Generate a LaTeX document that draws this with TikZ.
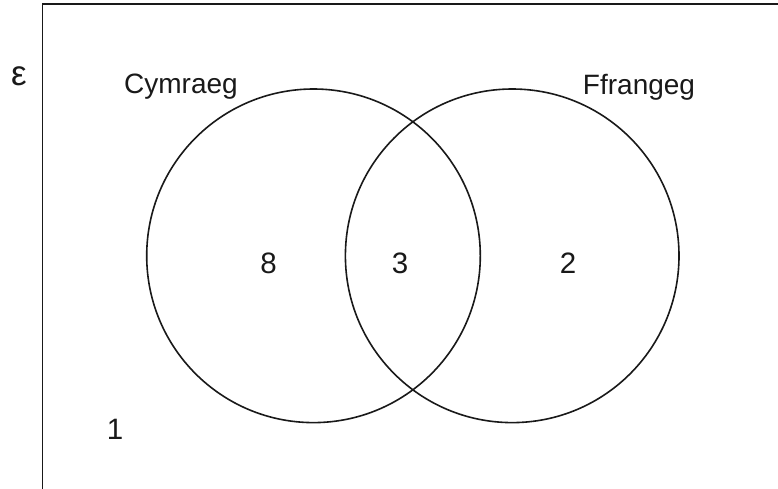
\documentclass[tikz,border=0pt]{standalone}
\usepackage{fontspec}
\setmainfont{Liberation Sans}
\begin{document}
\begin{tikzpicture}[x=1pt,y=-1pt,
  setline/.style={line width=1.6pt, draw=black!90},
  label/.style={anchor=base, inner sep=0pt, font=\fontsize{28}{30}\selectfont, text=black!90},
  count/.style={label, font=\fontsize{29.5}{32}\selectfont}]
\useasboundingbox (0,0) rectangle (778,488);
\clip (0,0) rectangle (778,488);
% universal set frame (runs off the page on the right and bottom)
\draw[setline] (42.5,800) -- (42.5,4) -- (900,4);
% the two sets
\node[setline, circle, minimum size=333.6pt, inner sep=0pt] (cym) at (313.5,255.8) {};
\node[setline, circle, minimum size=333.6pt, inner sep=0pt] (ffr) at (512.2,255.8) {};
% labels
\node[label, font=\fontsize{35}{36}\selectfont] (eps) at (19,85) {ε};
\node[label] (lcym) at (181,93) {Cymraeg};
\node[label] (lffr) at (639,94) {Ffrangeg};
\node[count] (n8) at (268.5,273.5) {8};
\node[count] (n3) at (400,273.5) {3};
\node[count] (n2) at (568,273.5) {2};
\node[count] (n1) at (115,439.5) {1};
\end{tikzpicture}
\end{document}
